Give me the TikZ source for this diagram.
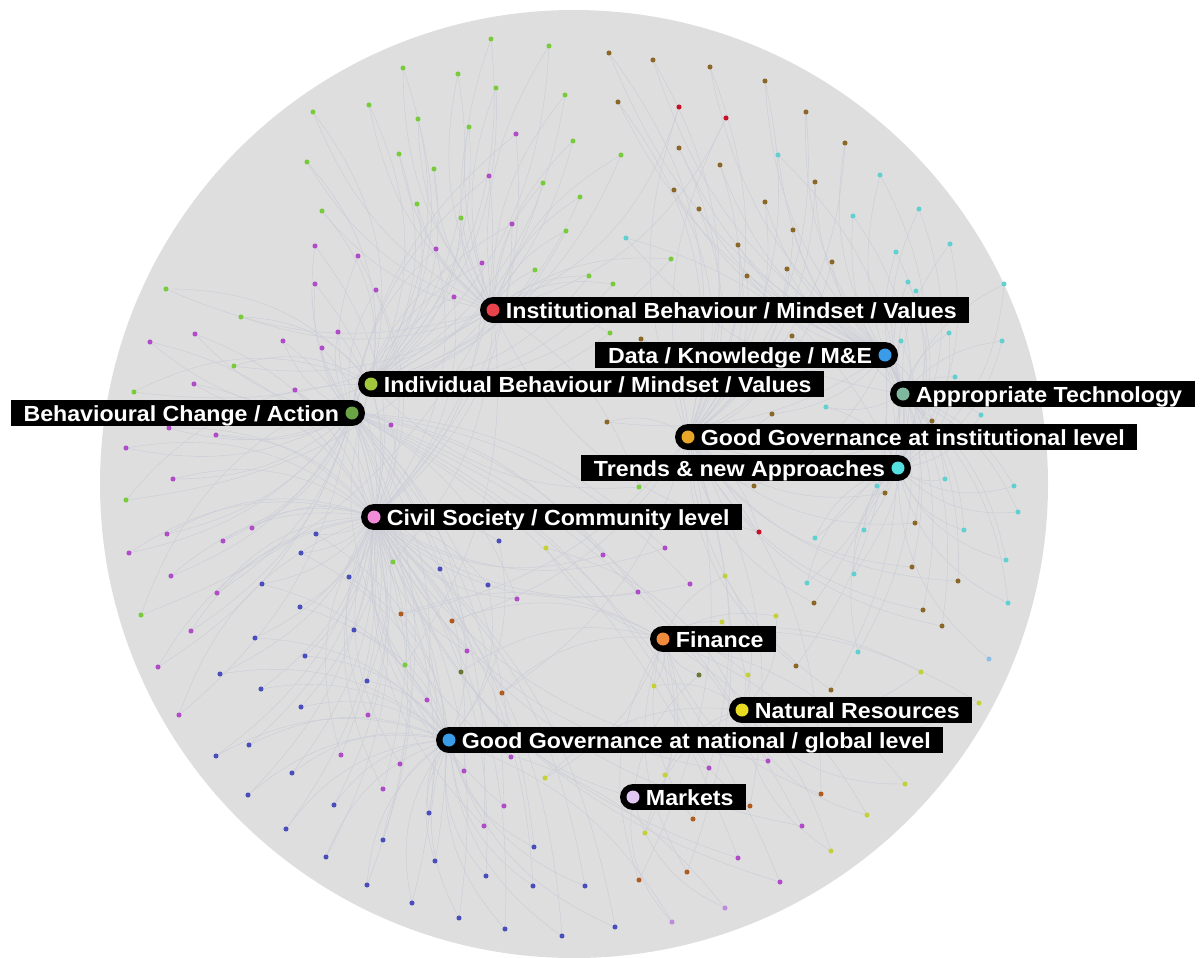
\documentclass[tikz,border=0pt]{standalone}
\usepackage{fontspec}
\newfontfamily\lblfont{Liberation Sans}[FakeStretch=1.06]
\definecolor{bgc}{RGB}{222,222,222}
\definecolor{edgec}{RGB}{202,204,216}
\definecolor{cg}{RGB}{120,204,60}
\definecolor{cp}{RGB}{176,76,200}
\definecolor{cb}{RGB}{74,78,188}
\definecolor{cl}{RGB}{190,140,220}
\definecolor{cw}{RGB}{139,104,40}
\definecolor{co}{RGB}{176,92,32}
\definecolor{cr}{RGB}{200,16,40}
\definecolor{cc}{RGB}{96,208,208}
\definecolor{cs}{RGB}{140,190,230}
\definecolor{cy}{RGB}{196,208,56}
\definecolor{cv}{RGB}{104,120,56}
\definecolor{hRed}{RGB}{232,66,74}
\definecolor{hBlue}{RGB}{58,156,232}
\definecolor{hYg}{RGB}{160,200,58}
\definecolor{hGreen}{RGB}{106,164,68}
\definecolor{hSage}{RGB}{126,184,158}
\definecolor{hAmber}{RGB}{232,166,40}
\definecolor{hCyan}{RGB}{84,224,224}
\definecolor{hPink}{RGB}{240,140,216}
\definecolor{hOrange}{RGB}{240,138,60}
\definecolor{hYellow}{RGB}{232,220,34}
\definecolor{hLav}{RGB}{224,200,240}
\pgfdeclarelayer{bg}
\pgfdeclarelayer{edges}
\pgfsetlayers{bg,edges,main}
\begin{document}
\begin{tikzpicture}[x=0.75pt,y=-0.75pt,
  smalldot/.style={circle, inner sep=0pt, minimum size=3.8pt},
  edgeline/.style={draw=edgec, line width=0.3pt},
  lblcap/.style={circle, fill=black, inner sep=0pt, minimum size=19.5pt},
  hubdot/.style={circle, inner sep=0pt, minimum size=9.75pt},
  lblbox/.style={rectangle, fill=black, text=white,
    font=\lblfont\bfseries\fontsize{16.4}{18}\selectfont,
    inner xsep=9.5pt, inner ysep=2.25pt, text height=13.5pt, text depth=1.5pt}]
\useasboundingbox (0,0) rectangle (1202,957);
\begin{pgfonlayer}{bg}
\fill[bgc] (574,484) circle[radius=355.5pt];
\end{pgfonlayer}
% hub positions
\coordinate (hInst) at (493,310);
\coordinate (hData) at (885,355);
\coordinate (hIndiv) at (371,384);
\coordinate (hBehav) at (352,413);
\coordinate (hAppr) at (903,394);
\coordinate (hGgi) at (688,437);
\coordinate (hTrend) at (898,468);
\coordinate (hCivil) at (374,517);
\coordinate (hFin) at (663,639);
\coordinate (hNat) at (742,710);
\coordinate (hGgn) at (449,740);
\coordinate (hMkt) at (633,797);
% green
\foreach \px/\py [count=\i] in {491/39,549/46,403/68,458/74,496/88,565/95,313/112,369/105,418/119,469/127,307/162,399/154,434/169,573/141,543/183,580/197,322/211,417/204,461/218,566/231,535/270,589/276,613/284,621/155,671/259,166/289,241/317,234/366,134/392,126/500,141/615,393/562,405/665,610/333,639/487}{
  \node[smalldot, fill=cg] (g\i) at (\px,\py) {};
  \begin{pgfonlayer}{edges}
  \draw[edgeline] (g\i) to[bend left=25] (hIndiv);
  \draw[edgeline] (g\i) to[bend right=20] (hInst);
  \end{pgfonlayer}}
% purple
\foreach \px/\py [count=\i] in {516/134,489/176,512/224,315/246,358/256,436/249,482/263,315/284,376/290,454/297,167/534,129/553,252/528,223/541,171/576,217/593,191/631,158/667,179/715,517/599,467/651,427/700,368/715,341/755,400/764,383/789,464/771,504/806,484/826,511/757,195/334,150/342,283/341,322/348,338/332,194/384,295/390,169/428,216/435,391/425,126/448,173/479,665/548,690/584,638/592,603/555,709/768,768/761,802/826,738/858,780/882}{
  \node[smalldot, fill=cp] (p\i) at (\px,\py) {};
  \begin{pgfonlayer}{edges}
  \draw[edgeline] (p\i) to[bend left=25] (hCivil);
  \draw[edgeline] (p\i) to[bend right=20] (hBehav);
  \end{pgfonlayer}}
% blue
\foreach \px/\py [count=\i] in {316/534,301/553,262/584,349/577,300/607,354/630,255/638,305/656,220/674,261/689,367/681,301/707,249/745,216/756,292/773,248/795,334/805,286/829,383/840,326/857,429/813,435/861,367/885,486/876,533/886,499/541,440/569,488/585,534/847,412/903,459/918,505/929,562/936,585/886,615/927}{
  \node[smalldot, fill=cb] (b\i) at (\px,\py) {};
  \begin{pgfonlayer}{edges}
  \draw[edgeline] (b\i) to[bend left=25] (hGgn);
  \draw[edgeline] (b\i) to[bend right=20] (hCivil);
  \end{pgfonlayer}}
% light purple
\foreach \px/\py [count=\i] in {672/922,725/908}{
  \node[smalldot, fill=cl] (l\i) at (\px,\py) {};
  \begin{pgfonlayer}{edges}
  \draw[edgeline] (l\i) to[bend left=25] (hMkt);
  \draw[edgeline] (l\i) to[bend right=20] (hGgn);
  \end{pgfonlayer}}
% brown
\foreach \px/\py [count=\i] in {609/53,653/60,710/67,765/81,618/102,679/148,720/165,674/190,699/209,765/202,793/230,738/245,747/276,787/269,915/523,912/567,958/581,923/610,942/626,814/603,796/666,831/690,641/339,792/336,607/422,772/414,754/486,885/493,932/421,806/112,845/143,815/182,832/262}{
  \node[smalldot, fill=cw] (w\i) at (\px,\py) {};
  \begin{pgfonlayer}{edges}
  \draw[edgeline] (w\i) to[bend left=25] (hGgi);
  \draw[edgeline] (w\i) to[bend right=20] (hData);
  \end{pgfonlayer}}
% orange-brown
\foreach \px/\py [count=\i] in {401/614,452/621,502/693,821/794,693/819,687/872,639/880,750/806}{
  \node[smalldot, fill=co] (o\i) at (\px,\py) {};
  \begin{pgfonlayer}{edges}
  \draw[edgeline] (o\i) to[bend left=25] (hFin);
  \draw[edgeline] (o\i) to[bend right=20] (hGgi);
  \end{pgfonlayer}}
% red
\foreach \px/\py [count=\i] in {679/107,726/118,759/532}{
  \node[smalldot, fill=cr] (r\i) at (\px,\py) {};
  \begin{pgfonlayer}{edges}
  \draw[edgeline] (r\i) to[bend left=25] (hInst);
  \draw[edgeline] (r\i) to[bend right=20] (hGgi);
  \end{pgfonlayer}}
% cyan
\foreach \px/\py [count=\i] in {778/155,626/238,815/538,864/530,854/574,807/583,964/530,1006/560,1008/603,1018/512,858/652,1014/486,908/282,916/291,949/333,1002/341,901/341,826/407,955/377,981/415,945/479,877/486,880/175,853/216,919/209,896/252,950/244,1004/284}{
  \node[smalldot, fill=cc] (c\i) at (\px,\py) {};
  \begin{pgfonlayer}{edges}
  \draw[edgeline] (c\i) to[bend left=25] (hTrend);
  \draw[edgeline] (c\i) to[bend right=20] (hAppr);
  \end{pgfonlayer}}
% sky
\foreach \px/\py [count=\i] in {989/659}{
  \node[smalldot, fill=cs] (s\i) at (\px,\py) {};
  \begin{pgfonlayer}{edges}
  \draw[edgeline] (s\i) to[bend left=25] (hTrend);
  \end{pgfonlayer}}
% yellow
\foreach \px/\py [count=\i] in {546/548,545/778,725/576,776/616,722/622,748/675,654/686,921/672,979/703,905/784,867/815,831/851,665/775,645/833}{
  \node[smalldot, fill=cy] (y\i) at (\px,\py) {};
  \begin{pgfonlayer}{edges}
  \draw[edgeline] (y\i) to[bend left=25] (hNat);
  \draw[edgeline] (y\i) to[bend right=20] (hFin);
  \end{pgfonlayer}}
% olive
\foreach \px/\py [count=\i] in {461/672,699/675}{
  \node[smalldot, fill=cv] (v\i) at (\px,\py) {};
  \begin{pgfonlayer}{edges}
  \draw[edgeline] (v\i) to[bend left=25] (hFin);
  \draw[edgeline] (v\i) to[bend right=20] (hMkt);
  \end{pgfonlayer}}
% labels: dot on the left
\foreach \nm/\col/\txt in {
  hInst/hRed/{Institutional Behaviour / Mindset / Values},
  hIndiv/hYg/{Individual Behaviour / Mindset / Values},
  hAppr/hSage/{Appropriate Technology},
  hGgi/hAmber/{Good Governance at institutional level},
  hCivil/hPink/{Civil Society / Community level},
  hFin/hOrange/{Finance},
  hNat/hYellow/{Natural Resources},
  hGgn/hBlue/{Good Governance at national / global level},
  hMkt/hLav/{Markets}}{
  \node[lblcap] (\nm cap) at (\nm) {};
  \node[lblbox, anchor=west] (\nm lbl) at (\nm) {\txt};
  \node[hubdot, fill=\col] (\nm dot) at (\nm) {};
}
% labels: dot on the right
\foreach \nm/\col/\txt in {
  hData/hBlue/{Data / Knowledge / M\&E},
  hBehav/hGreen/{Behavioural Change / Action},
  hTrend/hCyan/{Trends \& new Approaches}}{
  \node[lblcap] (\nm cap) at (\nm) {};
  \node[lblbox, anchor=east] (\nm lbl) at (\nm) {\txt};
  \node[hubdot, fill=\col] (\nm dot) at (\nm) {};
}
\end{tikzpicture}
\end{document}
